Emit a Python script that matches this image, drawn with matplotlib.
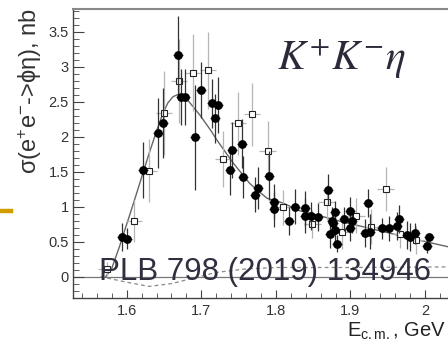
import numpy as np
import matplotlib
matplotlib.use('Agg')
import matplotlib.pyplot as plt

# sigma(e+e- -> phi eta) from K+K-eta, two data sets
E_new = [1.594, 1.601, 1.622, 1.642, 1.649, 1.669, 1.673, 1.678, 1.692, 1.699,
         1.715, 1.719, 1.722, 1.739, 1.741, 1.754, 1.756, 1.772, 1.776, 1.791,
         1.797, 1.797, 1.818, 1.826, 1.839, 1.839, 1.847, 1.857, 1.870, 1.873,
         1.875, 1.876, 1.879, 1.879, 1.882, 1.891, 1.899, 1.902, 1.899, 1.919,
         1.923, 1.926, 1.942, 1.951, 1.962, 1.965, 1.976, 1.980, 1.986, 2.002,
         2.005]
sig_new = [0.56, 0.54, 1.53, 2.05, 2.20, 3.16, 2.57, 2.57, 1.99, 2.67,
           2.48, 2.26, 2.45, 1.52, 1.81, 1.90, 1.42, 1.17, 1.26, 1.44,
           1.07, 0.96, 0.80, 1.00, 0.98, 0.87, 0.87, 0.85, 1.24, 0.61,
           0.80, 0.76, 0.93, 0.66, 0.47, 0.82, 0.94, 0.80, 0.69, 0.63,
           1.05, 0.64, 0.69, 0.69, 0.72, 0.82, 0.60, 0.56, 0.62, 0.44,
           0.56]
err_new = [0.20, 0.15, 0.40, 0.50, 0.50, 0.56, 0.40, 0.40, 0.75, 0.40,
           0.35, 0.35, 0.40, 0.35, 0.40, 0.35, 0.30, 0.25, 0.30, 0.35,
           0.25, 0.25, 0.20, 0.25, 0.25, 0.25, 0.20, 0.20, 0.22, 0.20,
           0.20, 0.20, 0.15, 0.20, 0.12, 0.17, 0.20, 0.18, 0.18, 0.20,
           0.20, 0.25, 0.15, 0.18, 0.20, 0.20, 0.20, 0.20, 0.15, 0.10,
           0.05]

E_old = [1.573, 1.610, 1.630, 1.650, 1.670, 1.689, 1.709, 1.729, 1.749, 1.768,
         1.789, 1.809, 1.849, 1.868, 1.889, 1.908, 1.928, 1.947, 1.967, 1.988]
sig_old = [0.11, 0.80, 1.51, 2.34, 2.79, 2.91, 2.95, 1.68, 2.19, 2.32,
           1.80, 0.99, 0.75, 1.06, 0.64, 0.87, 0.71, 1.25, 0.61, 0.53]
err_old = [0.10, 0.30, 0.45, 0.60, 0.60, 0.55, 0.55, 0.40, 0.45, 0.45,
           0.42, 0.25, 0.20, 0.25, 0.25, 0.25, 0.25, 0.31, 0.20, 0.20]

# fit curve and interference term
E_fit = [1.572, 1.580, 1.590, 1.600, 1.610, 1.620, 1.630, 1.640, 1.648, 1.655,
         1.662, 1.668, 1.675, 1.685, 1.698, 1.712, 1.721, 1.743, 1.765, 1.788,
         1.810, 1.832, 1.846, 1.890, 1.935, 1.980, 2.050]
sig_fit = [0.00, 0.12, 0.42, 0.75, 1.08, 1.42, 1.76, 2.08, 2.32, 2.48,
           2.57, 2.60, 2.60, 2.48, 2.31, 2.10, 1.95, 1.62, 1.33, 1.12,
           1.05, 0.94, 0.906, 0.78, 0.667, 0.55, 0.38]
E_int = [1.565, 1.600, 1.630, 1.660, 1.690, 1.720, 1.760, 1.800, 1.900, 2.050]
sig_int = [0.00, -0.08, -0.14, -0.10, -0.02, 0.06, 0.11, 0.13, 0.13, 0.14]

plt.rcParams['font.family'] = ['Liberation Sans', 'DejaVu Sans']
plt.rcParams['mathtext.fontset'] = 'custom'
plt.rcParams['mathtext.rm'] = 'Liberation Sans'
plt.rcParams['mathtext.it'] = 'Liberation Sans:italic'

fig = plt.figure(figsize=(4.48, 3.41), dpi=100)
ax = fig.add_axes([0.163, 0.1252, 0.869, 0.8484])

ax.axhline(0, color='#777777', lw=0.9, zorder=1)
ax.plot(E_int, sig_int, ls=(0, (3, 2.5)), color='#888888', lw=0.9, zorder=1)
ax.plot(E_fit, sig_fit, color='#666666', lw=1.0, zorder=2)

ax.errorbar(E_old, sig_old, yerr=err_old, xerr=0.011, fmt='s', ms=4.5,
            mfc='white', mec='#222222', mew=0.8, ecolor='#b5b5b5',
            elinewidth=0.9, capsize=0, zorder=3)
ax.errorbar(E_new, sig_new, yerr=err_new, xerr=0.0067, fmt='o', ms=5.3,
            color='black', ecolor='#333333', elinewidth=0.9, capsize=0,
            zorder=4)

ax.set_xlim(1.528, 2.05)
ax.set_ylim(-0.31, 3.824)
ax.set_xticks([1.6, 1.7, 1.8, 1.9, 2.0])
ax.set_xticklabels(['1.6', '1.7', '1.8', '1.9', '2'])
ax.set_xticks(np.arange(1.54, 2.05, 0.02), minor=True)
ax.set_yticks([0, 0.5, 1, 1.5, 2, 2.5, 3, 3.5])
ax.set_yticklabels(['0', '0.5', '1', '1.5', '2', '2.5', '3', '3.5'])
ax.set_yticks(np.arange(-0.3, 3.81, 0.1), minor=True)
ax.tick_params(which='both', direction='in', colors='#444444',
               labelcolor='#333333', labelsize=10.5)
ax.tick_params(axis='y', which='major', length=8, pad=3)
ax.tick_params(axis='y', which='minor', length=4)
ax.tick_params(axis='x', which='major', length=6, pad=4)
ax.tick_params(axis='x', which='minor', length=3.5)
ax.spines['right'].set_visible(False)
ax.spines['top'].set_color('#888888')
ax.spines['top'].set_linewidth(1.5)
for s in ('left', 'bottom'):
    ax.spines[s].set_color('#444444')
    ax.spines[s].set_linewidth(1.0)

fig.text(0.067, 0.977, r'σ(e$^{+}$e$^{-}$->ϕη), nb', rotation=90,
         ha='center', va='top', fontsize=17, color='#333333')
fig.text(0.996, 0.013, r'E$_{\mathrm{c.m.}}$, GeV', ha='right',
         va='baseline', fontsize=14.5, color='#222222')

fig.text(0.618, 0.795, r'$K^{+}K^{-}\eta$', ha='left', va='baseline',
         fontsize=30, color='#2a2a3a', math_fontfamily='stix')
fig.text(0.221, 0.179, 'PLB 798 (2019) 134946', ha='left', va='baseline',
         fontsize=22.5, color='#2f2f3f', zorder=10)

# short marker line at the left edge
fig.add_artist(plt.Line2D([0, 0.0246], [0.3798, 0.3798], color='#d09c00',
                          lw=3.2, transform=fig.transFigure))

fig.savefig('out.png', dpi=100)
